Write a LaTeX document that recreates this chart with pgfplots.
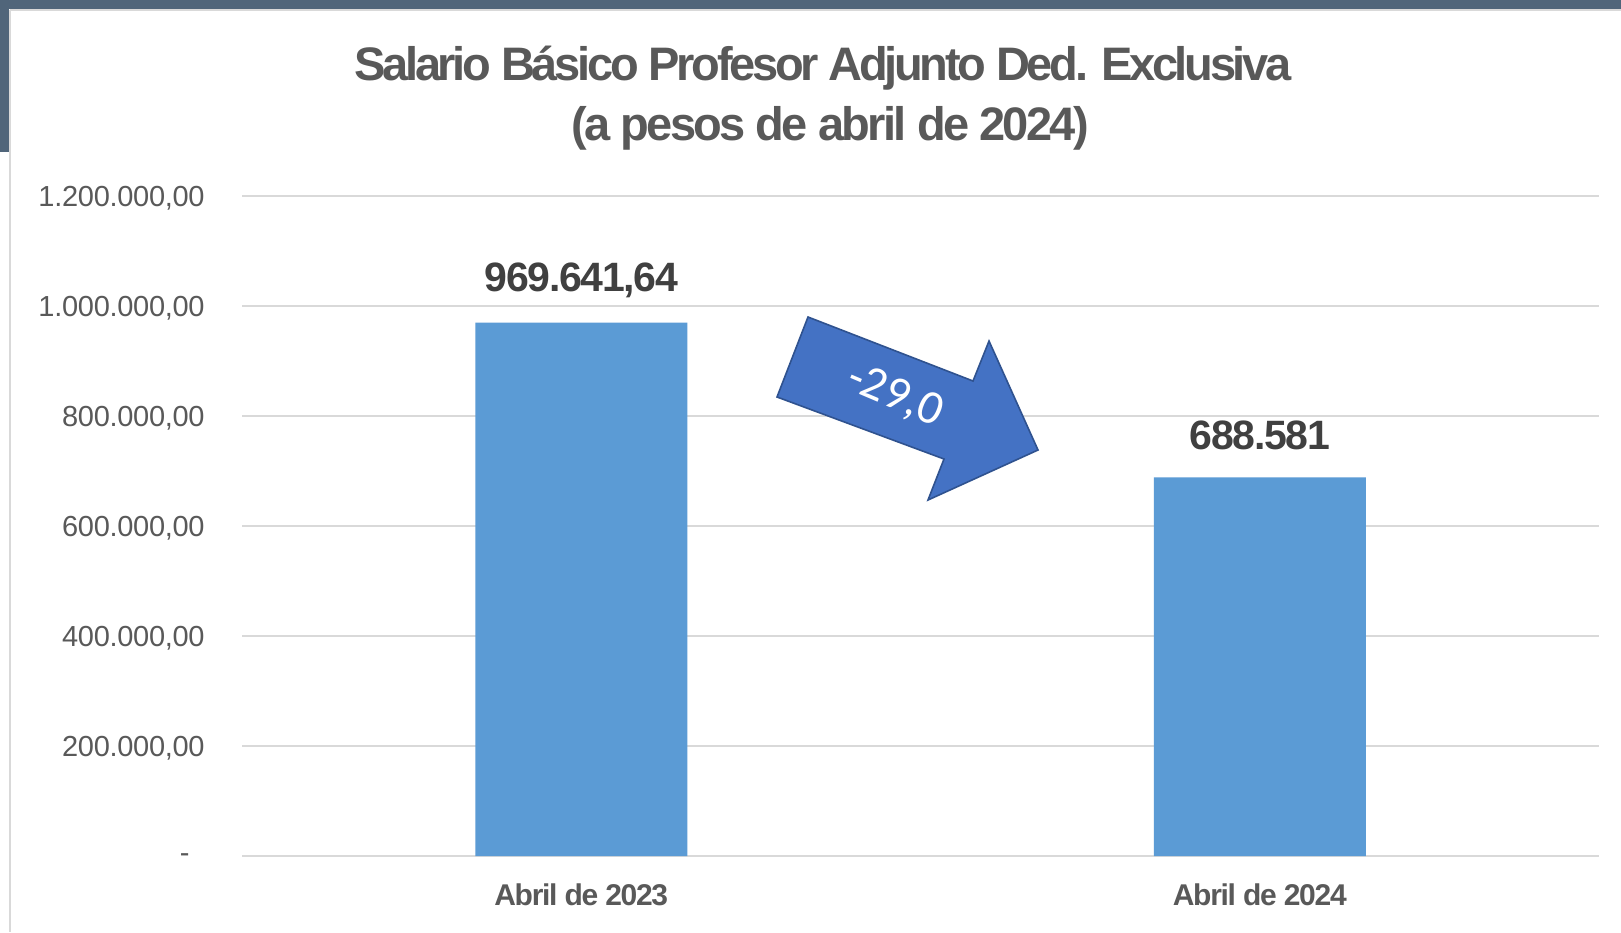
\documentclass[border=0pt]{standalone}
\usepackage{pgfplots}
\pgfplotsset{compat=1.18}
\usepackage{fontspec}
\setmainfont{Liberation Sans}
\newfontfamily\carlito{Carlito}
\newfontfamily\tickfont[LetterSpace=-1]{Liberation Sans}
\newfontfamily\xlabfont[LetterSpace=-4.3]{Liberation Sans}
\newfontfamily\datafont[LetterSpace=-3.2]{Liberation Sans}
\newfontfamily\titlefont[LetterSpace=-7]{Liberation Sans}
\newfontfamily\titlefontb[LetterSpace=-5.8]{Liberation Sans}
\definecolor{barblue}{HTML}{5B9BD5}
\definecolor{arrowfill}{HTML}{4472C4}
\definecolor{arrowdraw}{HTML}{2F528F}
\definecolor{gridgray}{HTML}{D9D9D9}
\definecolor{ttl}{HTML}{595959}
\definecolor{lbl}{HTML}{404040}
\definecolor{band}{HTML}{50657A}
\begin{document}
\begin{tikzpicture}
\path[use as bounding box, fill=white] (0pt,0pt) rectangle (810.5pt,-466pt);
\begin{scope}[x=0.5pt,y=-0.5pt]
\fill[band] (0,0) rectangle (1621,9);
\fill[band] (0,0) rectangle (9,152);
\draw[gridgray, line width=1pt] (10,10) -- (1621,10);
\draw[gridgray, line width=1pt] (10,10) -- (10,932);
\end{scope}
\begin{axis}[
  at={(121pt,-428pt)}, anchor=south west,
  scale only axis, width=678.5pt, height=330pt,
  xmin=-0.5, xmax=1.5, ymin=0, ymax=1200000,
  ybar, bar width=106pt,
  axis line style={draw=none},
  ymajorgrids, grid style={gridgray, line width=1pt},
  major tick length=0pt,
  scaled y ticks=false,
  ytick={0,200000,400000,600000,800000,1000000,1200000},
  yticklabels={{-\hspace*{7.5pt}},{200.000,00},{400.000,00},{600.000,00},{800.000,00},{1.000.000,00},{1.200.000,00}},
  yticklabel style={font=\tickfont\fontsize{14.5}{16}\selectfont, text=ttl, anchor=east, inner sep=0pt, xshift=-18.5pt, yshift=-1pt},
  xtick={0,1}, xticklabels={Abril de 2023, Abril de 2024},
  xticklabel style={font=\xlabfont\fontsize{15}{17}\selectfont\bfseries, text=ttl, anchor=center, inner sep=0pt, yshift=-19.5pt},
  clip=false,
  nodes near coords, point meta=explicit symbolic,
  every node near coord/.append style={font=\datafont\fontsize{20.5}{22}\selectfont\bfseries, text=lbl, anchor=center, yshift=21pt, inner sep=0pt},
]
\addplot[fill=barblue, draw=none] coordinates {(0,969641.64) [969.641,64] (1,688581) [688.581]};
\end{axis}
\node[anchor=base, text=ttl, font=\titlefont\fontsize{23.5}{26}\selectfont\bfseries, inner sep=0pt] at (411.5pt,-40pt) {Salario Básico Profesor Adjunto Ded. Exclusiva};
\node[anchor=base, text=ttl, font=\titlefontb\fontsize{23.5}{26}\selectfont\bfseries, inner sep=0pt] at (415pt,-70pt) {(a pesos de abril de 2024)};
\begin{scope}[x=0.5pt,y=-0.5pt]
\filldraw[fill=arrowfill, draw=arrowdraw, line width=0.8pt, line join=miter]
  (808,317) -- (777,397) -- (944,459) -- (928,500) -- (1038,450) -- (989,341) -- (973,381) -- cycle;
\node[text=white, font=\carlito\fontsize{24}{26}\selectfont, rotate=-23, inner sep=0pt] at (895,396) {-29,0};
\end{scope}
\end{tikzpicture}
\end{document}
